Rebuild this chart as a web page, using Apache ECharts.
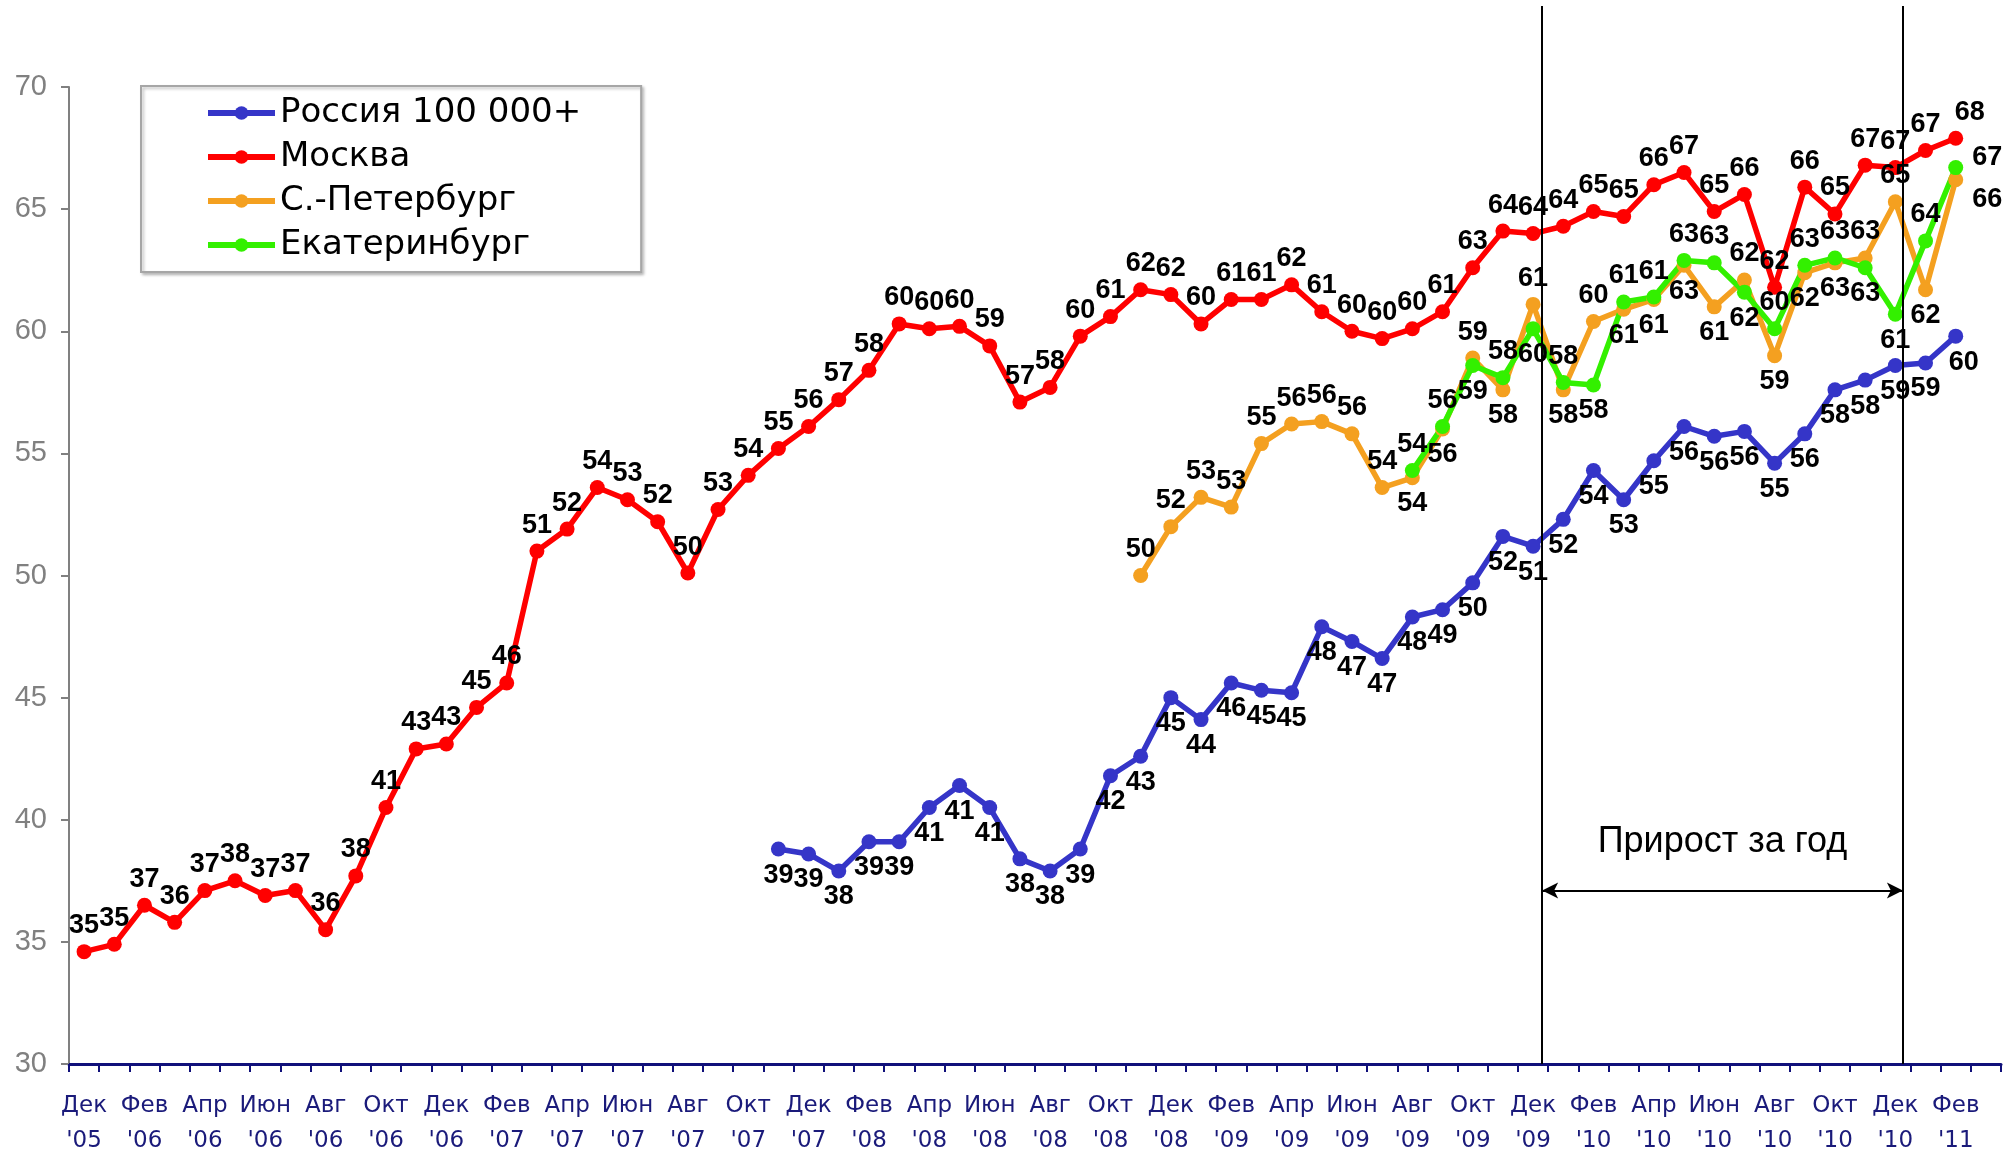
<!DOCTYPE html>
<html lang="ru">
<head>
  <meta charset="UTF-8" />
  <title>Прирост за год</title>
  <script src="https://cdn.jsdelivr.net/npm/echarts@6/dist/echarts.min.js"></script>
  <style>
    body { margin: 0; background: #fff; }
    #chart { width: 2013px; height: 1155px; }
  </style>
</head>
<body>
  <div id="chart"></div>
  <script>
    // months, Dec '05 .. Mar '11 (last slot is empty)
    const months = [
      "Дек\n'05",
      "Янв\n'06", "Фев\n'06", "Мар\n'06", "Апр\n'06", "Май\n'06", "Июн\n'06", "Июл\n'06", "Авг\n'06", "Сен\n'06", "Окт\n'06", "Ноя\n'06", "Дек\n'06",
      "Янв\n'07", "Фев\n'07", "Мар\n'07", "Апр\n'07", "Май\n'07", "Июн\n'07", "Июл\n'07", "Авг\n'07", "Сен\n'07", "Окт\n'07", "Ноя\n'07", "Дек\n'07",
      "Янв\n'08", "Фев\n'08", "Мар\n'08", "Апр\n'08", "Май\n'08", "Июн\n'08", "Июл\n'08", "Авг\n'08", "Сен\n'08", "Окт\n'08", "Ноя\n'08", "Дек\n'08",
      "Янв\n'09", "Фев\n'09", "Мар\n'09", "Апр\n'09", "Май\n'09", "Июн\n'09", "Июл\n'09", "Авг\n'09", "Сен\n'09", "Окт\n'09", "Ноя\n'09", "Дек\n'09",
      "Янв\n'10", "Фев\n'10", "Мар\n'10", "Апр\n'10", "Май\n'10", "Июн\n'10", "Июл\n'10", "Авг\n'10", "Сен\n'10", "Окт\n'10", "Ноя\n'10", "Дек\n'10",
      "Янв\n'11", "Фев\n'11", "Мар\n'11"
    ];

    const russia = [
      null, null, null, null, null, null, null, null, null, null, null, null,
      null, null, null, null, null, null, null, null, null, null, null,
      38.8, 38.6, 37.9, 39.1, 39.1, 40.5, 41.4, 40.5, 38.4, 37.9, 38.8, 41.8, 42.6,
      45.0, 44.1, 45.6, 45.3, 45.2, 47.9, 47.3, 46.6, 48.3, 48.6, 49.7, 51.6,
      51.2, 52.3, 54.3, 53.1, 54.7, 56.1, 55.7, 55.9, 54.6, 55.8, 57.6, 58.0,
      58.6, 58.7, 59.8, null
    ];

    const moscow = [
      34.6,
      34.9, 36.5, 35.8, 37.1, 37.5, 36.9, 37.1, 35.5, 37.7, 40.5, 42.9, 43.1,
      44.6, 45.6, 51.0, 51.9, 53.6, 53.1, 52.2, 50.1, 52.7, 54.1, 55.2, 56.1,
      57.2, 58.4, 60.3, 60.1, 60.2, 59.4, 57.1, 57.7, 59.8, 60.6, 61.7, 61.5,
      60.3, 61.3, 61.3, 61.9, 60.8, 60.0, 59.7, 60.1, 60.8, 62.6, 64.1, 64.0,
      64.3, 64.9, 64.7, 66.0, 66.5, 64.9, 65.6, 61.8, 65.9, 64.8, 66.8, 66.7,
      67.4, 67.9, null
    ];

    const spb = [
      null, null, null, null, null, null, null, null, null, null, null, null,
      null, null, null, null, null, null, null, null, null, null, null, null,
      null, null, null, null, null, null, null, null, null, null, null,
      50.0, 52.0,
      53.2, 52.8, 55.4, 56.2, 56.3, 55.8, 53.6, 54.0, 56.0, 58.9, 57.6, 61.1,
      57.6, 60.4, 60.9, 61.3, 62.7, 61.0, 62.1, 59.0, 62.4, 62.8, 63.0, 65.3,
      61.7, 66.2, null
    ];

    const ekb = [
      null, null, null, null, null, null, null, null, null, null, null, null,
      null, null, null, null, null, null, null, null, null, null, null, null,
      null, null, null, null, null, null, null, null, null, null, null, null,
      null, null, null, null, null, null, null, null,
      54.3, 56.1, 58.6, 58.1, 60.1,
      57.9, 57.8, 61.2, 61.4, 62.9, 62.8, 61.6, 60.1, 62.7, 63.0, 62.6, 60.7,
      63.7, 66.7, null
    ];

    const seriesNames = ['Россия 100 000+', 'Москва', 'С.-Петербург', 'Екатеринбург'];
    const periodStart = 48.3;   // Дек '09
    const periodEnd = 60.25;    // Дек '10
    const periodText = 'Прирост за год';

    // label placement tweaks (by month index)
    const spbBelow = [44, 45, 47, 49, 51, 52, 53, 54, 56, 57, 58, 61];
    const ekbBelow = [46, 48, 50, 55, 59, 60];
    const lastIdx = 62;

    const labelFont = "'Liberation Sans', Arial, sans-serif";

    function points(values, defaultPos, below, lastLabel) {
      return values.map((v, i) => {
        if (v === null) return null;
        if (i === lastIdx && lastLabel) return { value: v, label: lastLabel };
        if (below && below.includes(i)) return { value: v, label: { position: 'bottom' } };
        return v;
      });
    }

    function lineSeries(name, color, data, pos) {
      return {
        name: name,
        type: 'line',
        data: data,
        symbol: 'circle',
        symbolSize: 15,
        connectNulls: false,
        lineStyle: { color: color, width: 5.5 },
        itemStyle: { color: color },
        label: {
          show: true,
          position: pos,
          distance: 5,
          color: '#000',
          fontSize: 27,
          fontWeight: 'bold',
          fontFamily: labelFont,
          formatter: p => Math.round(p.value)
        },
        emphasis: { disabled: true }
      };
    }

    const chart = echarts.init(document.getElementById('chart'));

    const option = {
      backgroundColor: '#fff',
      animation: false,
      grid: [
        { left: 69, right: 12, top: 87, bottom: 91, outerBoundsMode: 'none' },
        { left: 69, right: 12, top: 6, bottom: 91, outerBoundsMode: 'none' }
      ],
      legend: {
        data: seriesNames,
        orient: 'vertical',
        left: 141,
        top: 86,
        padding: [9, 60, 9, 64],
        itemGap: 8,
        itemWidth: 67,
        itemHeight: 17,
        backgroundColor: '#fff',
        borderColor: '#a6a6a6',
        borderWidth: 2,
        shadowColor: 'rgba(0,0,0,0.25)',
        shadowBlur: 3,
        shadowOffsetX: 2,
        shadowOffsetY: 2,
        lineStyle: { width: 6 },
        textStyle: {
          fontSize: 34,
          lineHeight: 36,
          color: '#000',
          fontFamily: "'DejaVu Sans', sans-serif"
        }
      },
      xAxis: [
        {
          type: 'category',
          gridIndex: 0,
          data: months,
          boundaryGap: true,
          axisLine: { lineStyle: { color: '#10107a', width: 3 } },
          axisTick: { show: true, interval: 0, length: 8, lineStyle: { color: '#10107a', width: 2 } },
          axisLabel: {
            interval: 1,
            margin: 25,
            fontSize: 23,
            lineHeight: 35,
            color: '#1a1a7a',
            fontFamily: "'DejaVu Sans', sans-serif"
          },
          splitLine: { show: false }
        },
        { type: 'value', gridIndex: 1, min: -0.5, max: 63.5, show: false }
      ],
      yAxis: [
        {
          type: 'value',
          gridIndex: 0,
          min: 30,
          max: 70,
          interval: 5,
          axisLine: { show: true, lineStyle: { color: '#808080', width: 2 } },
          axisTick: { show: true, length: 8, lineStyle: { color: '#808080', width: 2 } },
          axisLabel: {
            margin: 22,
            fontSize: 29,
            color: '#808080',
            fontFamily: "'Liberation Sans', Arial, sans-serif"
          },
          splitLine: { show: false }
        },
        { type: 'value', gridIndex: 1, min: 30, max: 73.27, show: false }
      ],
      series: [
        lineSeries(seriesNames[0], '#3535c8',
          points(russia, 'bottom', null, { position: 'bottom', offset: [8, 0] }), 'bottom'),
        lineSeries(seriesNames[1], '#ff0000',
          points(moscow, 'top', null, { position: 'top', offset: [14, 0] }), 'top'),
        lineSeries(seriesNames[2], '#f4a020',
          points(spb, 'top', spbBelow, { position: 'right', offset: [4, 20] }), 'top'),
        lineSeries(seriesNames[3], '#33f000',
          points(ekb, 'top', ekbBelow, { position: 'right', offset: [4, -10] }), 'top'),
        {
          type: 'line',
          xAxisIndex: 1,
          yAxisIndex: 1,
          data: [],
          silent: true,
          markLine: {
            silent: true,
            symbol: 'none',
            lineStyle: { color: '#000', width: 2, type: 'solid' },
            label: { show: false },
            data: [
              [{ coord: [periodStart, 30] }, { coord: [periodStart, 73.27] }],
              [{ coord: [periodEnd, 30] }, { coord: [periodEnd, 73.27] }]
            ]
          }
        },
        {
          type: 'line',
          xAxisIndex: 1,
          yAxisIndex: 1,
          data: [],
          silent: true,
          markLine: {
            silent: true,
            symbol: ['arrow', 'arrow'],
            symbolSize: [12, 16],
            lineStyle: { color: '#000', width: 2, type: 'solid' },
            label: {
              show: true,
              position: 'insideMiddleTop',
              distance: 30,
              formatter: periodText,
              color: '#000',
              fontSize: 36,
              fontFamily: "'Liberation Sans', Arial, sans-serif"
            },
            data: [
              [{ coord: [periodStart, 37.1] }, { coord: [periodEnd, 37.1] }]
            ]
          }
        }
      ]
    };

    chart.setOption(option);
  </script>
</body>
</html>
